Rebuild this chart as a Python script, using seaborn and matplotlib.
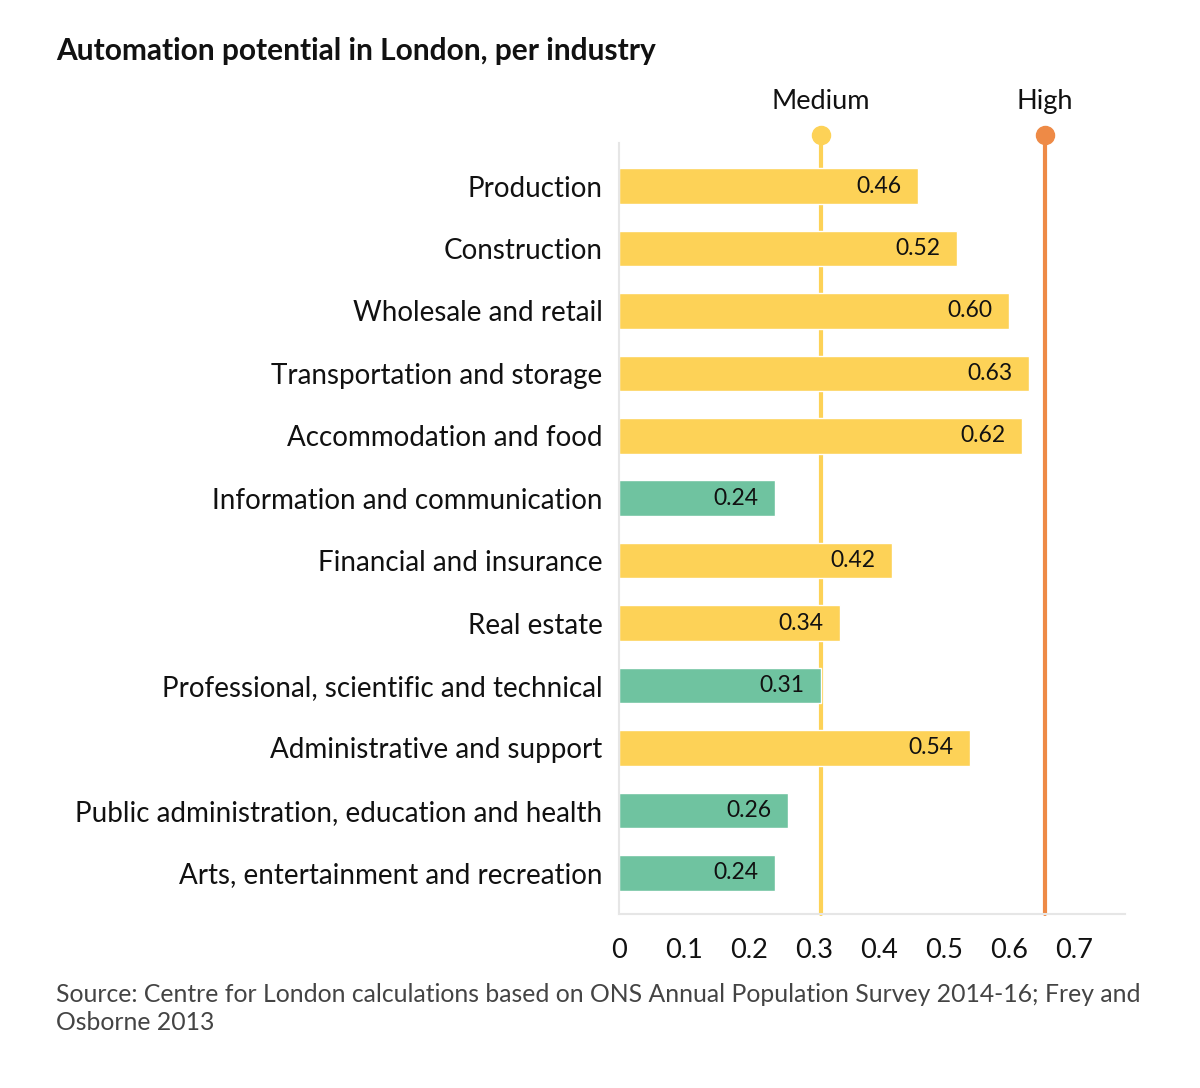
import pandas as pd
import numpy as np
import matplotlib.pyplot as plt
import seaborn as sns

industries = ["Production", "Construction", "Wholesale and retail", "Transportation and storage",
              "Accommodation and food", "Information and communication", "Financial and insurance",
              "Real estate", "Professional, scientific and technical", "Administrative and support",
              "Public administration, education and health", "Arts, entertainment and recreation"]
potential = [0.46, 0.52, 0.60, 0.63, 0.62, 0.24, 0.42, 0.34, 0.31, 0.54, 0.26, 0.24]
group = ["medium", "medium", "medium", "medium", "medium", "low", "medium", "medium", "low",
         "medium", "low", "low"]
thresholds = {"Medium": 0.31, "High": 0.655}

yellow = "#FDD257"
green = "#6FC3A0"
orange = "#EE8A46"

df = pd.DataFrame({"industry": industries, "potential": potential, "group": group})

sns.set_style("white")
plt.rcParams["font.family"] = ["Lato", "DejaVu Sans"]

fig = plt.figure(figsize=(12, 10.88), dpi=100)
ax = fig.add_axes([0.516, 0.16, 0.4215, 0.7086])
sns.barplot(data=df, y="industry", x="potential", hue="group", dodge=False,
            palette={"medium": yellow, "low": green}, width=0.57, legend=False,
            saturation=1, ax=ax, zorder=2)

for container in ax.containers:
    labels = ax.bar_label(container, fmt="%.2f", padding=-12, fontsize=16.5, color="#111111")
    for t in labels:
        t.set_ha("right")
        t.set_zorder(5)

line_cols = {"Medium": yellow, "High": orange}
for name, xv in thresholds.items():
    ax.axvline(xv, ymin=0, ymax=1.01, color=line_cols[name], lw=3, zorder=1, clip_on=False)
    ax.plot([xv], [1.0104], "o", ms=13, color=line_cols[name], transform=ax.get_xaxis_transform(),
            clip_on=False, zorder=4)
    ax.text(xv, 1.054, name, transform=ax.get_xaxis_transform(), ha="center", va="center",
            fontsize=19.5, color="#111111")

ax.set_xlim(0, 0.778)
ax.set_ylim(11.66, -0.69)
ax.set_xticks([0, 0.1, 0.2, 0.3, 0.4, 0.5, 0.6, 0.7])
ax.set_xticklabels(["0", "0.1", "0.2", "0.3", "0.4", "0.5", "0.6", "0.7"])
ax.tick_params(axis="x", length=0, pad=17, labelsize=19.5, labelcolor="#111111")
ax.tick_params(axis="y", length=0, pad=12, labelsize=20, labelcolor="#111111")
ax.set_xlabel("")
ax.set_ylabel("")
sns.despine(ax=ax, top=True, right=True)
for s in ["left", "bottom"]:
    ax.spines[s].set_color("#E6E6E6")
    ax.spines[s].set_linewidth(1.5)

fig.text(0.047, 0.953, "Automation potential in London, per industry", fontsize=21.5,
         fontweight="bold", ha="left", va="center", color="#111111")
fig.text(0.047, 0.073, "Source: Centre for London calculations based on ONS Annual Population Survey 2014-16; Frey and\nOsborne 2013",
         fontsize=17.8, ha="left", va="center", color="#444444", linespacing=1.3)

plt.savefig("out.png", dpi=100)
